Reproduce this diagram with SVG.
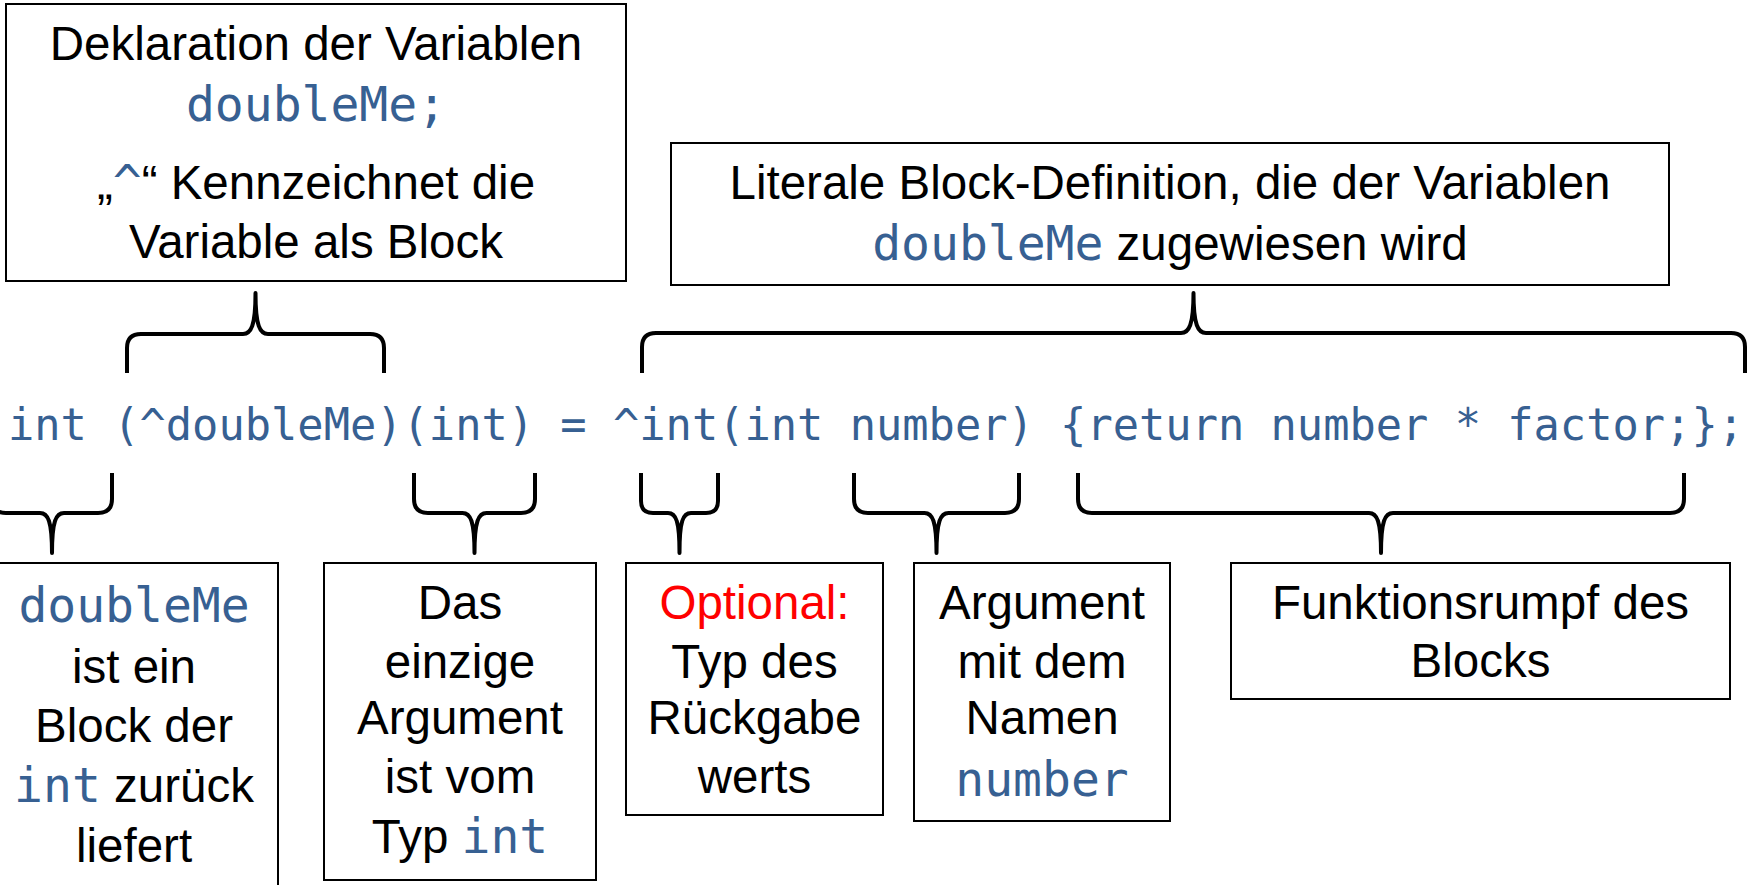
<svg xmlns="http://www.w3.org/2000/svg" width="1756" height="885" viewBox="0 0 1756 885">
<style>
.box{fill:#fff;stroke:#000;stroke-width:2}
.br{fill:none;stroke:#000;stroke-width:4;stroke-linejoin:round;stroke-linecap:butt}
.t{font-family:"Liberation Sans",Arial,sans-serif;font-size:47.5px;fill:#000;text-anchor:middle}
.m{font-family:"DejaVu Sans Mono","Liberation Mono",monospace;font-size:48px;fill:#376092}
.code{font-family:"DejaVu Sans Mono","Liberation Mono",monospace;font-size:43.7px;fill:#376092}
.red{fill:#ff0000}
</style>
<rect width="1756" height="885" fill="#fff"/>

<g id="connectors">
<path class="br" d="M127,373 L127,348 Q127,334 141,334 L243,334 C251,334 255.5,326 255.5,293 C255.5,326 260,334 268,334 L370,334 Q384,334 384,348 L384,373"/>
<path class="br" d="M642,373 L642,347 Q642,333 656,333 L1181,333 C1189,333 1193.5,325 1193.5,293 C1193.5,325 1198,333 1206,333 L1731,333 Q1745,333 1745,347 L1745,373"/>
<path class="br" d="M-8,473 L-8,499 Q-8,513 6,513 L40,513 C48,513 52,521 52,553 C52,521 56,513 64,513 L98,513 Q112,513 112,499 L112,473"/>
<path class="br" d="M414,473 L414,499 Q414,513 428,513 L462.5,513 C470.5,513 474.5,521 474.5,553 C474.5,521 478.5,513 486.5,513 L521,513 Q535,513 535,499 L535,473"/>
<path class="br" d="M641,473 L641,501 Q641,513 653,513 L668,513 C676,513 679.5,521 679.5,553 C679.5,521 683,513 691,513 L706,513 Q718,513 718,501 L718,473"/>
<path class="br" d="M854,473 L854,499 Q854,513 868,513 L924.5,513 C932.5,513 936.5,521 936.5,553 C936.5,521 940.5,513 948.5,513 L1005,513 Q1019,513 1019,499 L1019,473"/>
<path class="br" d="M1078,473 L1078,499 Q1078,513 1092,513 L1369,513 C1377,513 1381,521 1381,553 C1381,521 1385,513 1393,513 L1670,513 Q1684,513 1684,499 L1684,473"/>
</g>

<g id="code">
<text class="code" x="8" y="440" textLength="1736" lengthAdjust="spacing" xml:space="preserve">int (^doubleMe)(int) = ^int(int number) {return number * factor;};</text>
</g>

<g id="node-declaration">
<rect class="box" x="6" y="4" width="620" height="277"/>
<text class="t" x="316" y="60">Deklaration der Variablen</text>
<text class="t" x="316" y="121"><tspan class="m">doubleMe;</tspan></text>
<text class="t" x="316" y="199">„<tspan class="m">^</tspan>“ Kennzeichnet die</text>
<text class="t" x="316" y="258">Variable als Block</text>
</g>

<g id="node-definition">
<rect class="box" x="671" y="143" width="998" height="142"/>
<text class="t" x="1170" y="199">Literale Block-Definition, die der Variablen</text>
<text class="t" x="1170" y="260"><tspan class="m">doubleMe</tspan> zugewiesen wird</text>
</g>

<g id="node-return">
<rect class="box" x="-10" y="563" width="288" height="340"/>
<text class="t" x="134" y="622"><tspan class="m">doubleMe</tspan></text>
<text class="t" x="134" y="683">ist ein</text>
<text class="t" x="134" y="742">Block der</text>
<text class="t" x="134" y="802"><tspan class="m">int</tspan> zurück</text>
<text class="t" x="134" y="862">liefert</text>
</g>

<g id="node-argtype">
<rect class="box" x="324" y="563" width="272" height="317"/>
<text class="t" x="460" y="619">Das</text>
<text class="t" x="460" y="678">einzige</text>
<text class="t" x="460" y="734">Argument</text>
<text class="t" x="460" y="793">ist vom</text>
<text class="t" x="460" y="853">Typ <tspan class="m">int</tspan></text>
</g>

<g id="node-optional">
<rect class="box" x="626" y="563" width="257" height="252"/>
<text class="t red" x="754.5" y="619">Optional:</text>
<text class="t" x="754.5" y="678">Typ des</text>
<text class="t" x="754.5" y="734">Rückgabe</text>
<text class="t" x="754.5" y="793">werts</text>
</g>

<g id="node-argname">
<rect class="box" x="914" y="563" width="256" height="258"/>
<text class="t" x="1042" y="619">Argument</text>
<text class="t" x="1042" y="678">mit dem</text>
<text class="t" x="1042" y="734">Namen</text>
<text class="t" x="1042" y="796"><tspan class="m">number</tspan></text>
</g>

<g id="node-body">
<rect class="box" x="1231" y="563" width="499" height="136"/>
<text class="t" x="1480.5" y="619">Funktionsrumpf des</text>
<text class="t" x="1480.5" y="677">Blocks</text>
</g>
</svg>
